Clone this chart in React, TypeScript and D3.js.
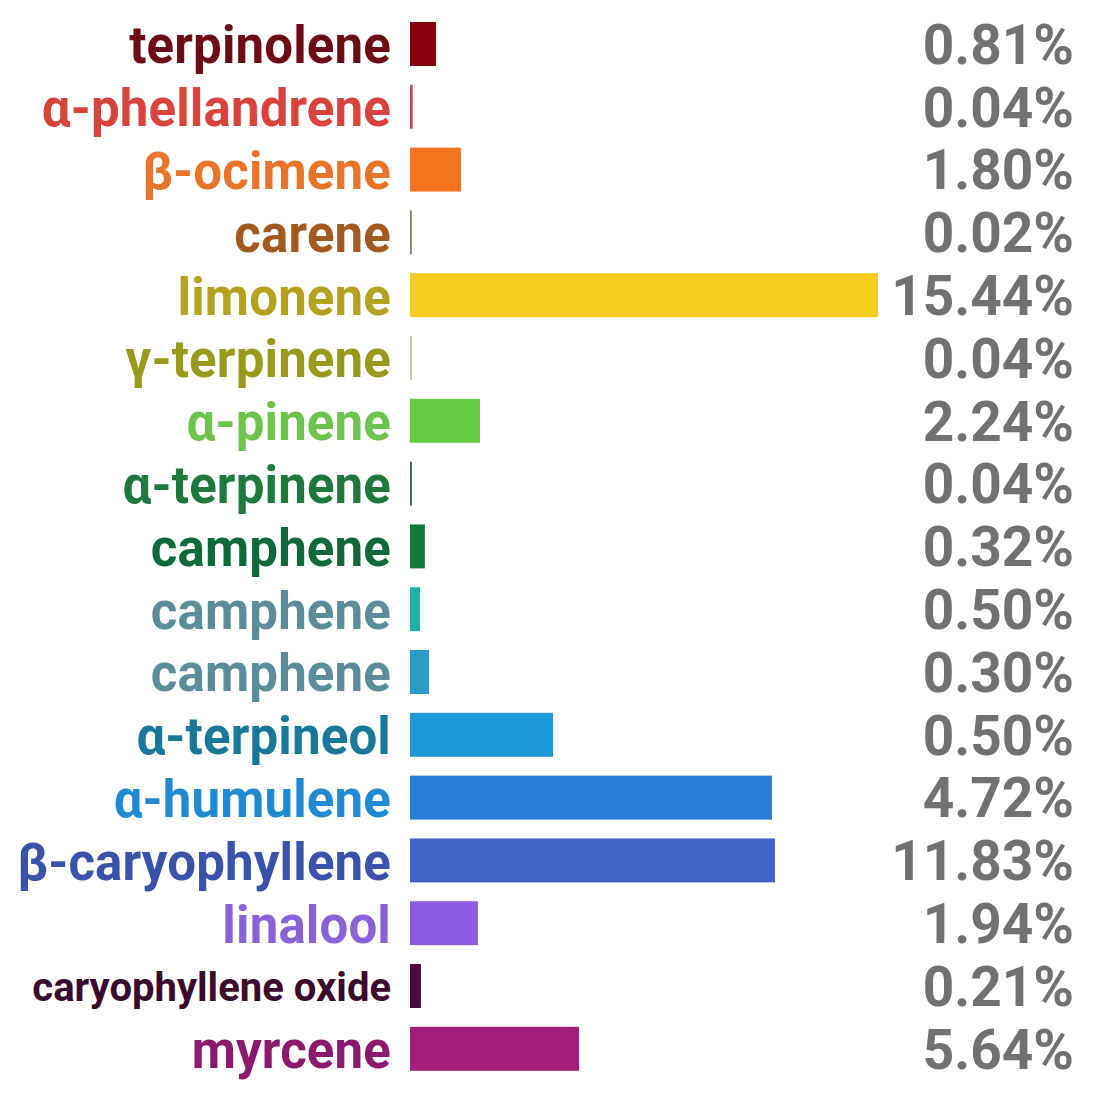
import React from "react";
import * as d3 from "d3";

const categories = [
  "terpinolene",
  "α-phellandrene",
  "β-ocimene",
  "carene",
  "limonene",
  "γ-terpinene",
  "α-pinene",
  "α-terpinene",
  "camphene",
  "camphene",
  "camphene",
  "α-terpineol",
  "α-humulene",
  "β-caryophyllene",
  "linalool",
  "caryophyllene oxide",
  "myrcene",
];

// bar lengths as drawn (percent units)
const barValues = [0.86, 0.09, 1.68, 0.06, 15.44, 0.06, 2.31, 0.06, 0.49, 0.33, 0.63, 4.72, 11.94, 12.04, 2.24, 0.36, 5.58];

// value labels as printed
const valueLabels = [
  "0.81%", "0.04%", "1.80%", "0.02%", "15.44%", "0.04%", "2.24%", "0.04%", "0.32%",
  "0.50%", "0.30%", "0.50%", "4.72%", "11.83%", "1.94%", "0.21%", "5.64%",
];

const labelColors = [
  "#6d0c16", "#d8443c", "#e8742a", "#a35a1e", "#b3a21e", "#999a1c", "#6cc44c", "#1d7a3c",
  "#0e6a3a", "#5a8c9a", "#5a8c9a", "#17789a", "#1f8ad2", "#3a52aa", "#8a62d8", "#3a0b2c", "#8c1a6c",
];

const barColors = [
  "#880010", "#c0505c", "#f47420", "#8c7c5c", "#f6cd1f", "#b8cc98", "#66cc44", "#2a6444",
  "#0f7a3c", "#20b0a8", "#2b9cc8", "#1c9ad8", "#2a7ed8", "#4262c8", "#8a5ce2", "#4a0b3c", "#a21e78",
];

export default function App() {
  const width = 1100;
  const height = 1100;
  const x0 = 410;
  const x = d3.scaleLinear().domain([0, 15.44]).range([x0, 878]);
  const y = d3
    .scaleBand<number>()
    .domain(d3.range(categories.length))
    .range([12.6, 1080.2])
    .paddingInner(0.3)
    .paddingOuter(0.15);
  const bw = y.bandwidth();

  return (
    <svg
      width={width}
      height={height}
      style={{ position: "absolute", left: 0, top: 0, background: "#fff" }}
      fontFamily="Roboto, 'Noto Sans', sans-serif"
    >
      <rect x={0} y={0} width={width} height={height} fill="#fff" />
      {categories.map((c, i) => {
        const yy = y(i)!;
        const cy = yy + bw / 2;
        const small = c === "caryophyllene oxide";
        return (
          <g key={i}>
            <text
              x={391}
              y={cy}
              dy="0.38em"
              textAnchor="end"
              fontWeight={700}
              fontSize={small ? 40 : 51}
              letterSpacing={small ? 0 : 0.15}
              fill={labelColors[i]}
            >
              {c}
            </text>
            <rect
              x={x0}
              y={yy}
              width={Math.max(1.5, x(barValues[i]) - x0)}
              height={bw}
              fill={barColors[i]}
            />
            <text
              x={1074}
              y={cy}
              dy="0.36em"
              textAnchor="end"
              fontWeight={700}
              fontSize={55}
              fill="#717171"
            >
              {valueLabels[i]}
            </text>
          </g>
        );
      })}
    </svg>
  );
}
